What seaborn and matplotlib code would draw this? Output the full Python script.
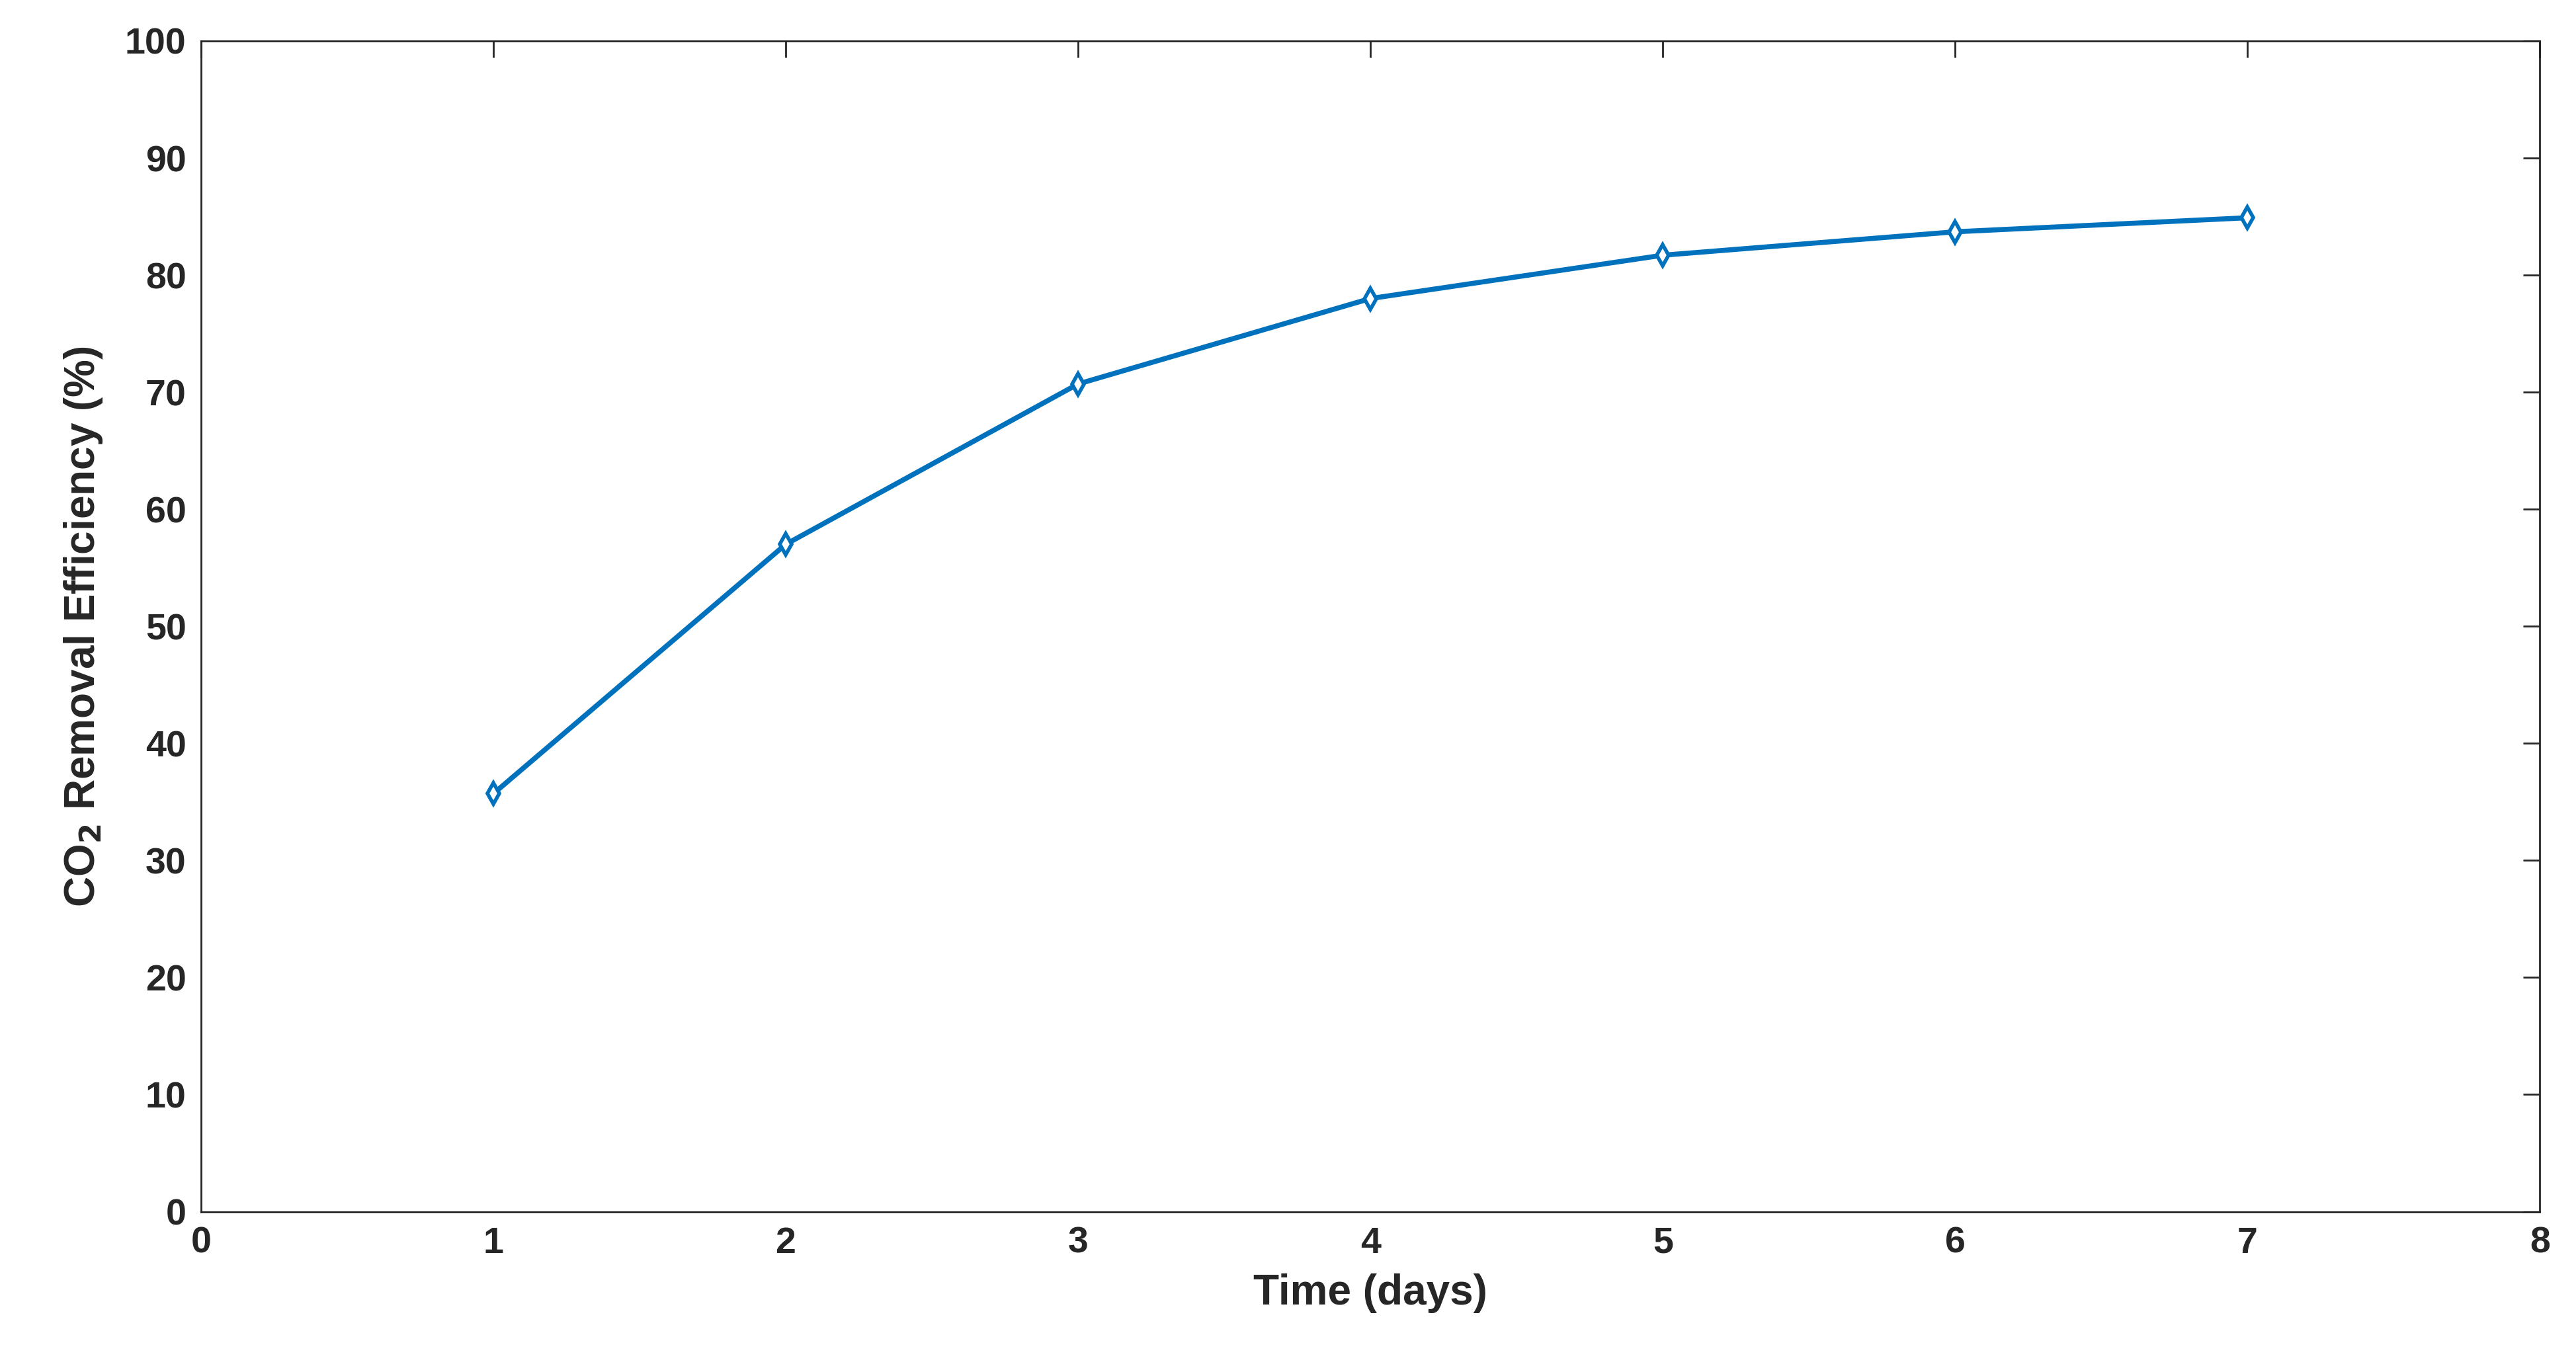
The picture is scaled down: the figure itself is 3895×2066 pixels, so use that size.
import matplotlib.pyplot as plt
import pandas as pd
import seaborn as sns

days = [1, 2, 3, 4, 5, 6, 7]
efficiency = [35.7, 57.0, 70.7, 78.0, 81.7, 83.7, 84.9]

df = pd.DataFrame({"Time": days, "Efficiency": efficiency})

sns.set_style("white")
plt.rcParams["font.family"] = ["Arial", "Liberation Sans", "DejaVu Sans"]

fig = plt.figure(figsize=(38.95, 20.66), dpi=100)
ax = fig.add_axes([0.078, 0.113, 0.908, 0.857])

sns.lineplot(
    data=df, x="Time", y="Efficiency", ax=ax,
    color="#0072BD", linewidth=5.5,
    marker="d", markersize=16, markerfacecolor="white",
    markeredgecolor="#0072BD", markeredgewidth=4,
)

ax.set_xlim(0, 8)
ax.set_ylim(0, 100)
ax.set_xticks(range(0, 9))
ax.set_yticks(range(0, 101, 10))
ax.tick_params(direction="in", length=18, width=2, colors="#262626",
               labelsize=40, top=True, right=True, pad=16)
for lab in ax.get_xticklabels() + ax.get_yticklabels():
    lab.set_fontweight("bold")
for s in ax.spines.values():
    s.set_color("#262626")
    s.set_linewidth(2)

ax.set_xlabel("Time (days)", fontsize=46, fontweight="bold", color="#262626", labelpad=14)
ax.set_ylabel(r"CO$_\mathbf{2}$ Removal Efficiency (%)", fontsize=46,
              fontweight="bold", color="#262626", labelpad=22)

fig.savefig("out.png", dpi=100, facecolor="white")
